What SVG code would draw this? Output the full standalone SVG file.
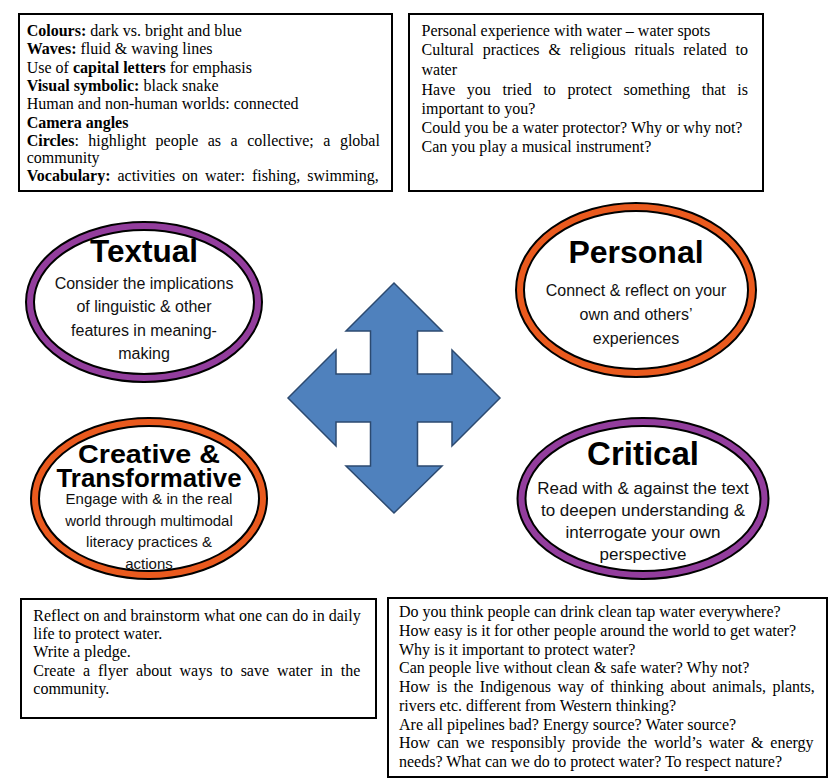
<svg xmlns="http://www.w3.org/2000/svg" width="840" height="780" viewBox="0 0 840 780">
<style>
.box{fill:#fff;stroke:#000;stroke-width:2}
.t{font-family:"Liberation Serif","Times New Roman",serif;font-size:16px;fill:#000}
.b{font-weight:bold}
.ringo{fill:#fff;stroke:#000;stroke-width:10}
.purple{fill:none;stroke:#933d9d;stroke-width:6}
.orange{fill:none;stroke:#ea5a1e;stroke-width:6}
.title{font-family:"Liberation Sans",Arial,sans-serif;font-weight:bold;fill:#000;text-anchor:middle}
.body{font-family:"Liberation Sans",Arial,sans-serif;fill:#111;text-anchor:middle}
.arrow{fill:#4f81bd;stroke:#2c4a70;stroke-width:1.5;stroke-linejoin:miter}
</style>
<rect width="840" height="780" fill="#fff"/>

<g id="box-textual-notes">
<rect class="box" x="19" y="14" width="373" height="177"/>
<text class="t" x="26.7" y="36"><tspan class="b">Colours:</tspan> dark vs. bright and blue</text>
<text class="t" x="26.7" y="54.3"><tspan class="b">Waves:</tspan> fluid &amp; waving lines</text>
<text class="t" x="26.7" y="72.6">Use of <tspan class="b">capital letters</tspan> for emphasis</text>
<text class="t" x="26.7" y="90.9"><tspan class="b">Visual symbolic:</tspan> black snake</text>
<text class="t" x="26.7" y="109.2">Human and non-human worlds: connected</text>
<text class="t b" x="26.7" y="127.5">Camera angles</text>
<text class="t" x="26.7" y="145.8" word-spacing="5.5"><tspan class="b">Circles</tspan>: highlight people as a collective; a global</text>
<text class="t" x="26.7" y="162.5">community</text>
<text class="t" x="26.7" y="181" word-spacing="2.9"><tspan class="b">Vocabulary:</tspan> activities on water: fishing, swimming,</text>
</g>

<g id="box-personal-notes">
<rect class="box" x="409" y="14" width="354" height="177"/>
<text class="t" x="421.5" y="36">Personal experience with water – water spots</text>
<text class="t" x="421.5" y="55.3" word-spacing="4.8">Cultural practices &amp; religious rituals related to</text>
<text class="t" x="421.5" y="75">water</text>
<text class="t" x="421.5" y="95.3" word-spacing="7.6">Have you tried to protect something that is</text>
<text class="t" x="421.5" y="114.3">important to you?</text>
<text class="t" x="421.5" y="133.3">Could you be a water protector? Why or why not?</text>
<text class="t" x="421.5" y="152.3">Can you play a musical instrument?</text>
</g>

<g id="node-textual">
<ellipse class="ringo" cx="144" cy="302" rx="114" ry="76"/>
<ellipse class="purple" cx="144" cy="302" rx="114" ry="76"/>
<text class="title" x="144" y="261.5" font-size="31.5">Textual</text>
<text class="body" x="144" y="289" font-size="16">Consider the implications</text>
<text class="body" x="144" y="312" font-size="16">of linguistic &amp; other</text>
<text class="body" x="144" y="335.5" font-size="16">features in meaning-</text>
<text class="body" x="144" y="358.5" font-size="16">making</text>
</g>

<g id="node-personal">
<ellipse class="ringo" cx="636" cy="290" rx="116" ry="83"/>
<ellipse class="orange" cx="636" cy="290" rx="116" ry="83"/>
<text class="title" x="636" y="263" font-size="32">Personal</text>
<text class="body" x="636" y="296" font-size="16">Connect &amp; reflect on your</text>
<text class="body" x="636" y="320" font-size="16">own and others’</text>
<text class="body" x="636" y="344" font-size="16">experiences</text>
</g>

<g id="node-creative">
<ellipse class="ringo" cx="149" cy="498.5" rx="114" ry="76.5"/>
<ellipse class="orange" cx="149" cy="498.5" rx="114" ry="76.5"/>
<text class="title" x="149" y="462.5" font-size="25" textLength="142" lengthAdjust="spacingAndGlyphs">Creative &amp;</text>
<text class="title" x="149" y="486.5" font-size="25" textLength="185" lengthAdjust="spacingAndGlyphs">Transformative</text>
<text class="body" x="149" y="504" font-size="15">Engage with &amp; in the real</text>
<text class="body" x="149" y="525.5" font-size="15">world through multimodal</text>
<text class="body" x="149" y="547" font-size="15">literacy practices &amp;</text>
<text class="body" x="149" y="568.5" font-size="15">actions</text>
</g>

<g id="node-critical">
<ellipse class="ringo" cx="643" cy="498.5" rx="121.5" ry="76.5"/>
<ellipse class="purple" cx="643" cy="498.5" rx="121.5" ry="76.5"/>
<text class="title" x="643" y="465" font-size="33">Critical</text>
<text class="body" x="643" y="493.5" font-size="17">Read with &amp; against the text</text>
<text class="body" x="643" y="516" font-size="17">to deepen understanding &amp;</text>
<text class="body" x="643" y="538" font-size="17">interrogate your own</text>
<text class="body" x="643" y="560" font-size="17">perspective</text>
</g>

<g id="connectors">
<polygon class="arrow" points="394,283 442,331 417.5,331 417.5,374 452,374 452,350 500,398 452,446 452,422 417.5,422 417.5,466 442,466 394,513 346,466 370.5,466 370.5,422 336,422 336,446 288,398 336,350 336,374 370.5,374 370.5,331 346,331"/>
</g>

<g id="box-creative-notes">
<rect class="box" x="21" y="599" width="355" height="119"/>
<text class="t" x="33.3" y="620.5">Reflect on and brainstorm what one can do in daily</text>
<text class="t" x="33.3" y="639">life to protect water.</text>
<text class="t" x="33.3" y="657">Write a pledge.</text>
<text class="t" x="33.3" y="675.5" word-spacing="3.9">Create a flyer about ways to save water in the</text>
<text class="t" x="33.3" y="694">community.</text>
</g>

<g id="box-critical-notes">
<rect class="box" x="388" y="598" width="439" height="179"/>
<text class="t" x="399" y="617">Do you think people can drink clean tap water everywhere?</text>
<text class="t" x="399" y="635.75">How easy is it for other people around the world to get water?</text>
<text class="t" x="399" y="654.5">Why is it important to protect water?</text>
<text class="t" x="399" y="673.25">Can people live without clean &amp; safe water? Why not?</text>
<text class="t" x="399" y="692" word-spacing="2.5">How is the Indigenous way of thinking about animals, plants,</text>
<text class="t" x="399" y="710.75">rivers etc. different from Western thinking?</text>
<text class="t" x="399" y="729.5">Are all pipelines bad? Energy source? Water source?</text>
<text class="t" x="399" y="748.25" word-spacing="2.8">How can we responsibly provide the world’s water &amp; energy</text>
<text class="t" x="399" y="767">needs? What can we do to protect water? To respect nature?</text>
</g>
</svg>
